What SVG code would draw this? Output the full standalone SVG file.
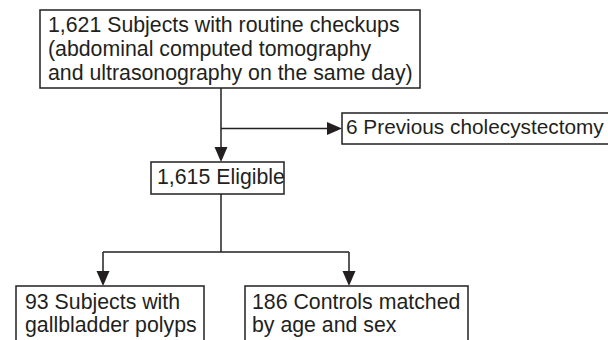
<svg xmlns="http://www.w3.org/2000/svg" width="608" height="340" viewBox="0 0 608 340">
<defs>
<style>
.box{fill:#fff;stroke:#231f20;stroke-width:1.5}
.t{font-family:"Liberation Sans",Arial,sans-serif;font-size:21.3px;fill:#231f20}
.ln{fill:none;stroke:#231f20;stroke-width:1.5}
.ah{fill:#231f20;stroke:none}
</style>
</defs>
<rect width="608" height="340" fill="#fff"/>
<g id="connectors">
<line class="ln" x1="221" y1="88" x2="221" y2="150"/>
<line class="ln" x1="221" y1="128.5" x2="332" y2="128.5"/>
<polygon class="ah" points="327,122 342,128.5 327,135"/>
<polygon class="ah" points="214.5,147 227.5,147 221,162"/>
<line class="ln" x1="221" y1="194" x2="221" y2="252"/>
<line class="ln" x1="103" y1="252" x2="349" y2="252"/>
<line class="ln" x1="103" y1="252" x2="103" y2="275"/>
<line class="ln" x1="349" y1="252" x2="349" y2="275"/>
<polygon class="ah" points="96.5,271 109.5,271 103,286"/>
<polygon class="ah" points="342.5,271 355.5,271 349,286"/>
</g>
<g id="n_checkups">
<rect class="box" x="40" y="10" width="380" height="78"/>
<text class="t" x="48" y="32">1,621 Subjects with routine checkups</text>
<text class="t" x="48" y="56">(abdominal computed tomography</text>
<text class="t" x="48" y="80">and ultrasonography on the same day)</text>
</g>
<g id="n_excluded">
<rect class="box" x="342" y="113" width="280" height="31"/>
<text class="t" x="346" y="134" style="font-size:20.8px">6 Previous cholecystectomy</text>
</g>
<g id="n_eligible">
<rect class="box" x="151" y="162" width="133" height="32"/>
<text class="t" x="157" y="184">1,615 Eligible</text>
</g>
<g id="n_polyps">
<rect class="box" x="16" y="286" width="188" height="70"/>
<text class="t" x="25" y="309">93 Subjects with</text>
<text class="t" x="25" y="332">gallbladder polyps</text>
</g>
<g id="n_controls">
<rect class="box" x="245" y="286" width="223" height="70"/>
<text class="t" x="252" y="309">186 Controls matched</text>
<text class="t" x="252" y="332">by age and sex</text>
</g>
</svg>
